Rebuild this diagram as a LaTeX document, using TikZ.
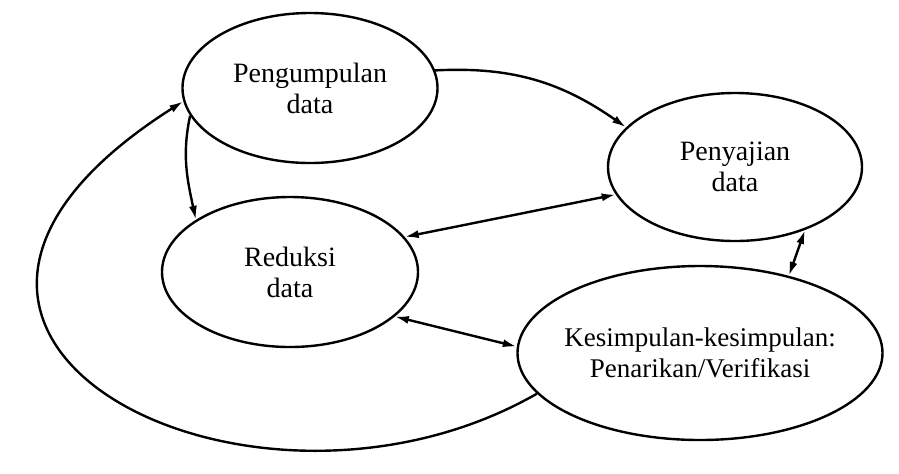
\documentclass[tikz,border=0pt]{standalone}
\usepackage{fontspec}
\setmainfont{Liberation Serif}
\usetikzlibrary{arrows.meta,shapes.geometric}

\begin{document}
\begin{tikzpicture}[x=0.5pt,y=0.5pt]
    \tikzset{vertex/.style = {shape=ellipse, draw, line width=1.2pt, inner sep=0pt, align=center, font=\fontsize{14}{15.5}\selectfont}}
    \tikzset{edge/.style = {draw, line width=1.2pt, >={Latex[length=7pt,width=4pt]}}}
    \useasboundingbox (0,0) rectangle (899,-473);

    % vertices
    \node[vertex, minimum width=127.5pt, minimum height=75pt] (peng) at (310,-88) {Pengumpulan\\data};
    \node[vertex, minimum width=127pt, minimum height=74pt] (peny) at (735,-167) {Penyajian\\data};
    \node[vertex, minimum width=128pt, minimum height=75pt] (redu) at (290,-272) {Reduksi\\data};
    \node[vertex, minimum width=182.5pt, minimum height=87pt, inner xsep=-20pt, font=\fontsize{13.5}{15.5}\selectfont] (kesi) at (700,-353) {Kesimpulan-kesimpulan:\\Penarikan/Verifikasi};

    % edges
    \draw [edge,->] (peng.8) to[out=3, in=145] (peny.160);
    \draw [edge,->] (peng.193) to[out=258, in=102] (redu.151);
    \draw [edge,<->] (peny.193) -- (redu.17);
    \draw [edge,<->] (redu.337) -- (kesi.178);
    \draw [edge,<->] (kesi.41) -- (peny.318);
    \draw [edge,->] (kesi.194) .. controls +(-288,-165) and +(-370,-235) .. (peng.186);
\end{tikzpicture}
\end{document}
